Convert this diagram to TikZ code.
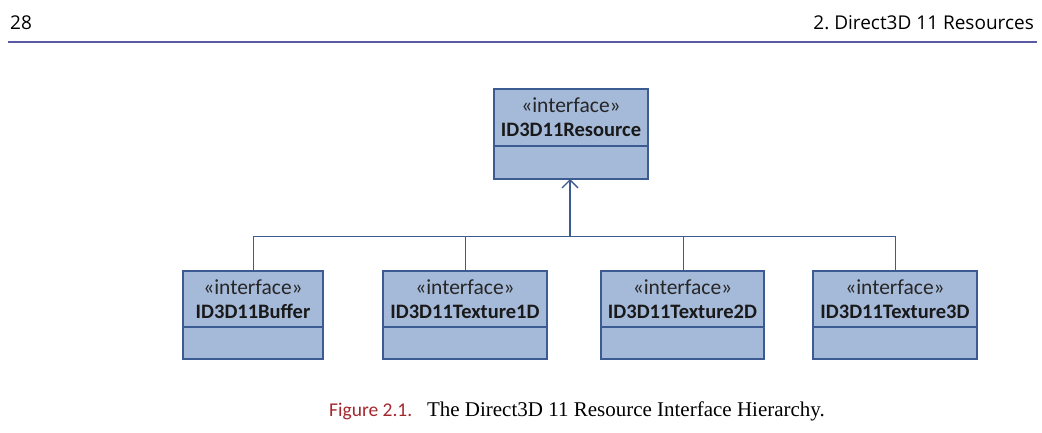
\documentclass[tikz,border=0pt]{standalone}
\usepackage{fontspec}
\setmainfont{Liberation Serif}
\newfontfamily\boxfont{Carlito}
\newfontfamily\headfont{Open Sans}
\usetikzlibrary{arrows.meta}
\definecolor{boxfill}{HTML}{A5B9D9}
\definecolor{boxline}{HTML}{3B5B92}
\definecolor{rulecol}{HTML}{5A5AA6}
\definecolor{figred}{HTML}{A3282E}
\begin{document}
\begin{tikzpicture}[x=1pt,y=-1pt,
  umlbox/.style={draw=boxline,fill=boxfill,line width=1.4pt},
  stereo/.style={font=\boxfont\fontsize{21.5}{21.5}\selectfont,text=black!85,inner sep=0pt,anchor=base},
  cname/.style={font=\boxfont\bfseries\fontsize{20.5}{20.5}\selectfont,text=black!90,inner sep=0pt,anchor=base},
  link/.style={draw=boxline,line width=1pt}]
\useasboundingbox (0,0) rectangle (1042,433);
% header
\node[font=\headfont\fontsize{19}{19}\selectfont,anchor=base west,inner sep=0pt] (pg) at (10,30) {28};
\node[font=\headfont\fontsize{19}{19}\selectfont,anchor=base east,inner sep=0pt] (chap) at (1034,30) {2.\ Direct3D 11 Resources};
\draw[rulecol,line width=2pt] (8,42) -- (1037,42);
% top box
\draw[umlbox] (494,89) rectangle (648,179);
\draw[boxline,line width=1.2pt] (494,146) -- (648,146);
\node[stereo] (rs) at (571,113) {«interface»};
\node[cname] (rn) at (571,137) {ID3D11Resource};
\coordinate (rbot) at (570,179);
% bottom boxes
\foreach \l/\r/\n/\t in {183/323/buf/ID3D11Buffer,383/547/t1/ID3D11Texture1D,601/764/t2/ID3D11Texture2D,813/977/t3/ID3D11Texture3D}{
  \draw[umlbox] (\l,271) rectangle (\r,359);
  \draw[boxline,line width=1.2pt] (\l,327) -- (\r,327);
  \node[stereo] (\n s) at ({(\l+\r)/2},294) {«interface»};
  \node[cname] (\n) at ({(\l+\r)/2},318) {\t};
}
\coordinate (bbuf) at (253,271);
\coordinate (bt1) at (465,271);
\coordinate (bt2) at (683,271);
\coordinate (bt3) at (895,271);
\coordinate (hub) at (570,236);
\draw[link] (bbuf) |- (hub);
\draw[link] (bt3) |- (hub);
\draw[link] (bt1) -- (bt1 |- hub);
\draw[link] (bt2) -- (bt2 |- hub);
\draw[link,line width=1.4pt,-{Straight Barb[length=8pt,width=16pt,line width=1.4pt]}] (hub) -- (rbot);
% caption
\node[anchor=base west,inner sep=0pt,font=\fontsize{21}{21}\selectfont] (cap) at (329,416) {{\boxfont\fontsize{19.5}{19.5}\selectfont\color{figred}Figure 2.1.}\hspace{0.7em}The Direct3D 11 Resource Interface Hierarchy.};
\end{tikzpicture}
\end{document}
